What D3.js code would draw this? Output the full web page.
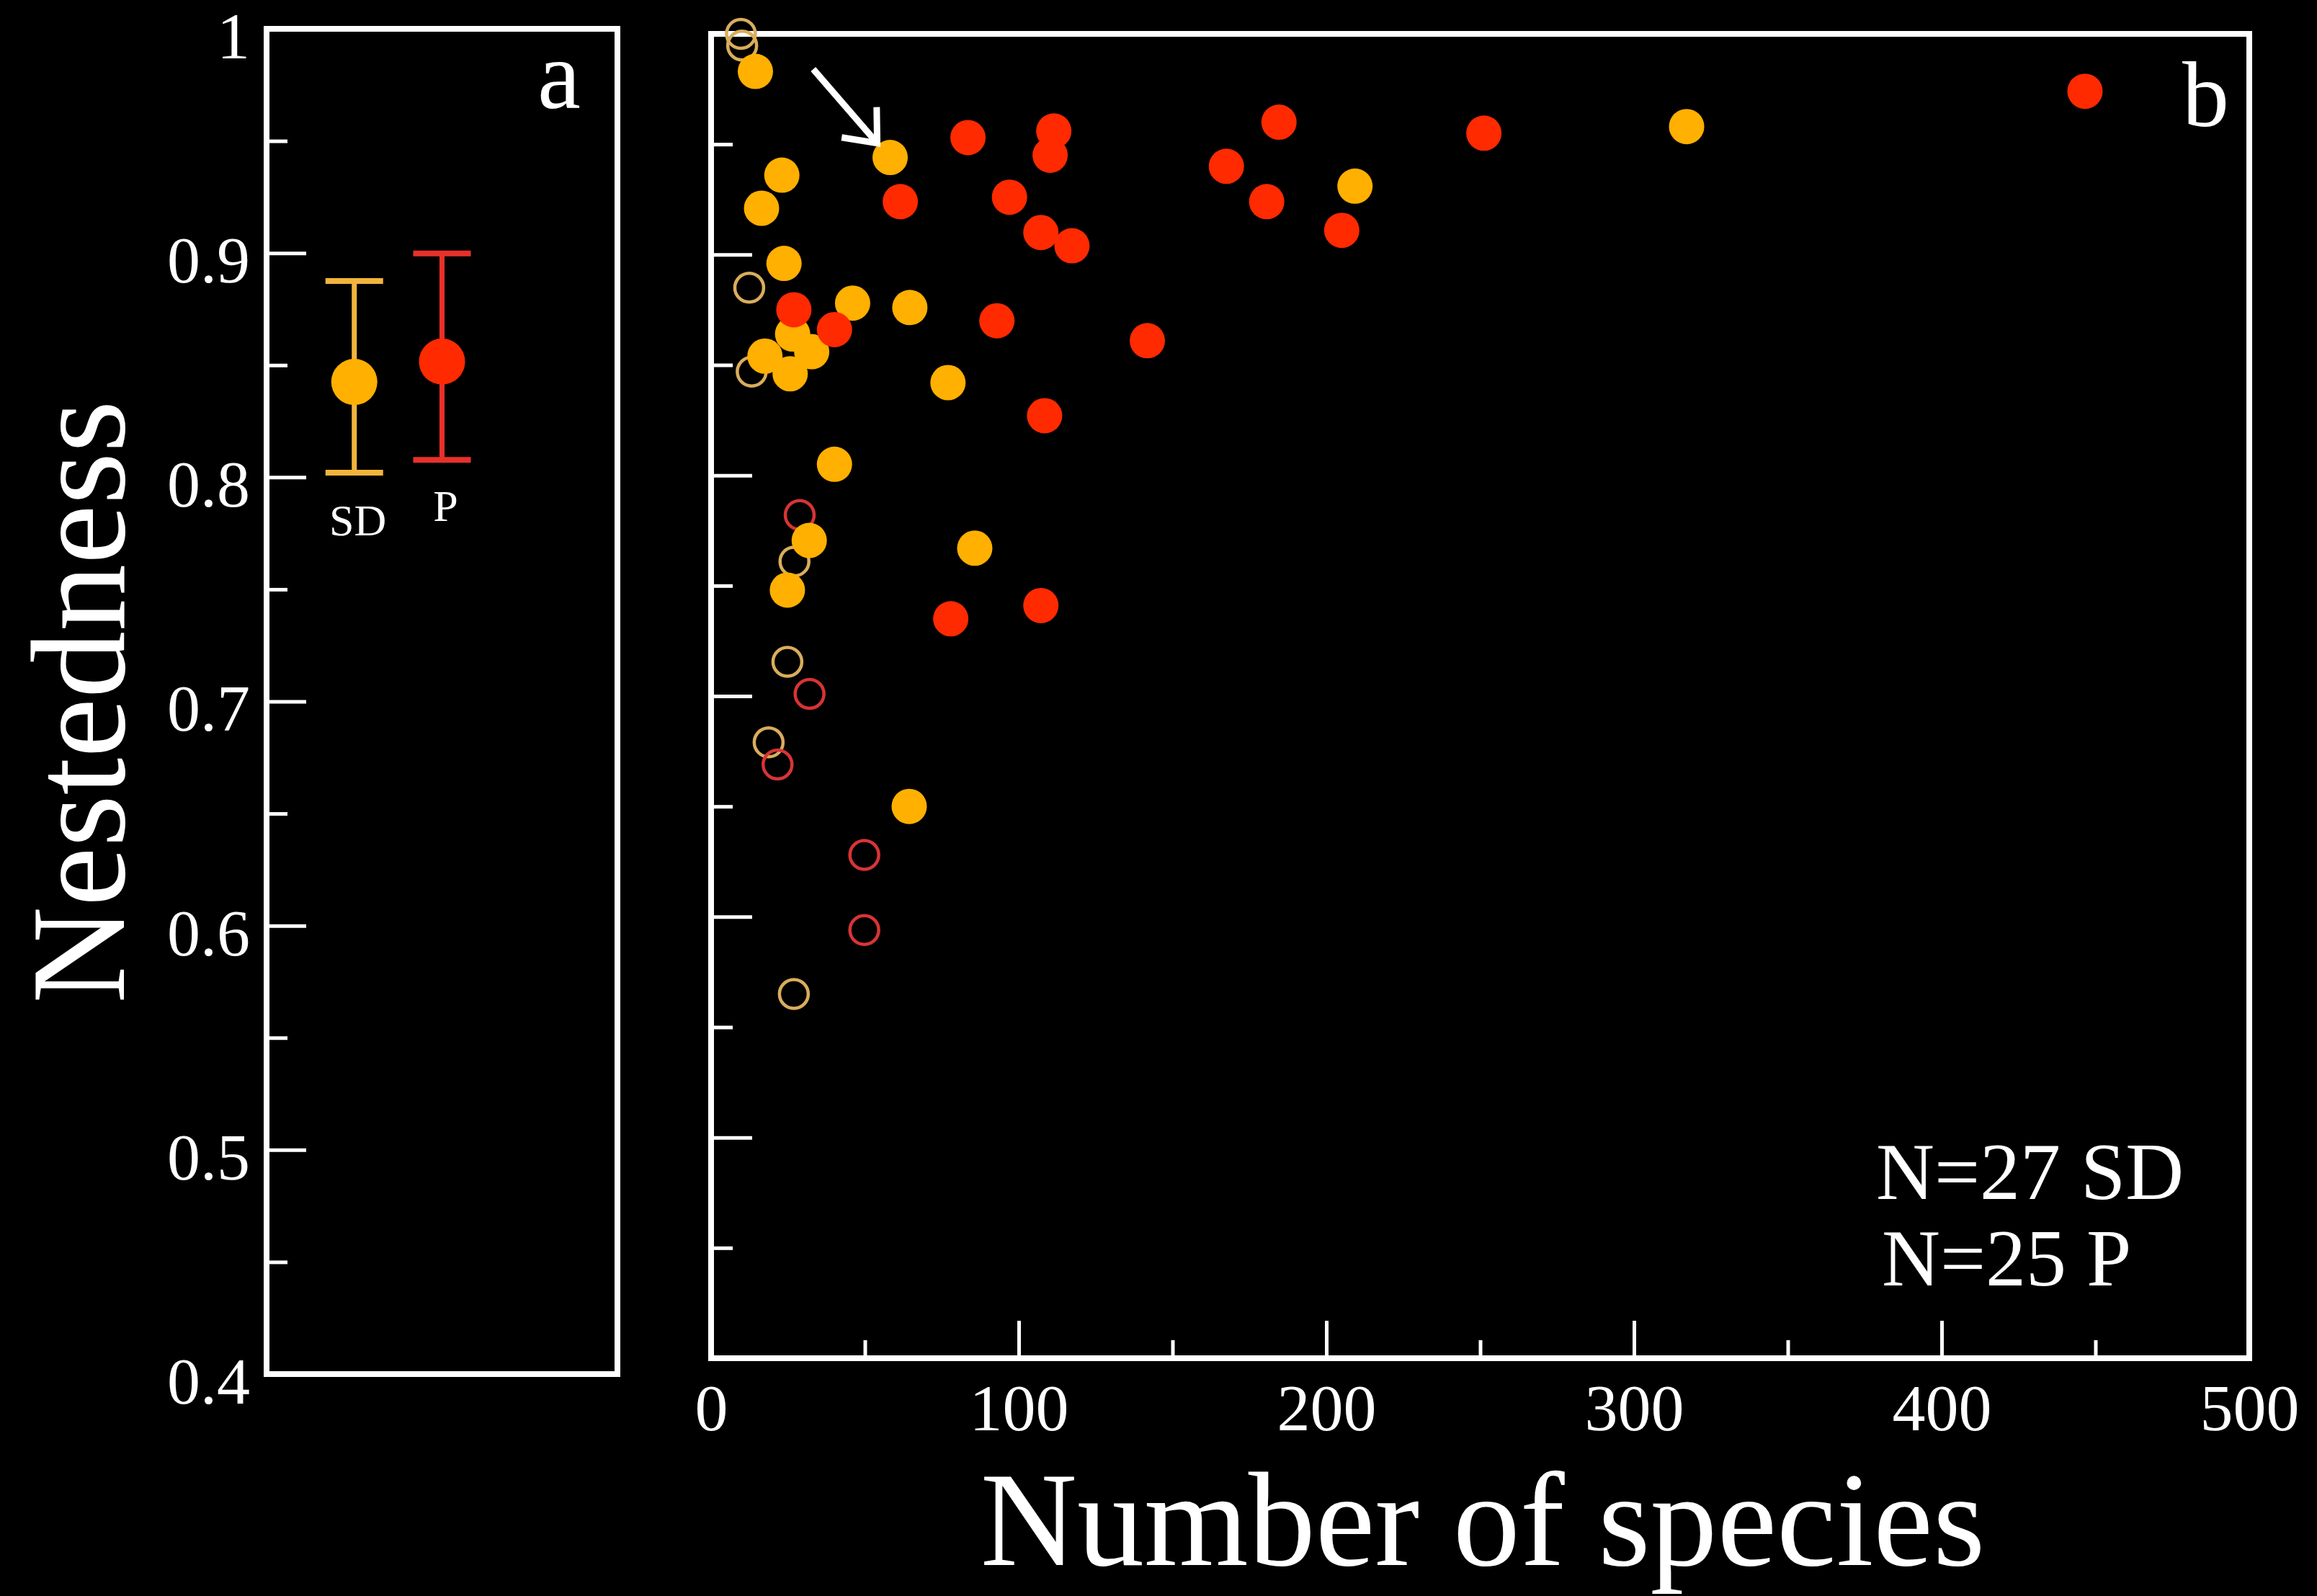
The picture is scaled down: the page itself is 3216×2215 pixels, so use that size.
<!DOCTYPE html>
<html>
<head>
<meta charset="utf-8">
<script src="https://cdn.jsdelivr.net/npm/d3@7"></script>
<style>
  html, body { margin: 0; padding: 0; background: #000; }
  svg { display: block; }
</style>
</head>
<body>
<div id="chart"></div>
<script>
// Panel a: mean nestedness with error bars
const groups = ["SD", "P"];
const groupMeans = [0.8425, 0.8516];
const groupLow = [0.802, 0.8077];
const groupHigh = [0.8875, 0.8998];

// Panel b: nestedness vs number of species
const sdFilled = [
  [14.4, 0.983], [58.2, 0.944], [23.0, 0.936], [16.4, 0.921], [23.7, 0.896],
  [46.0, 0.878], [64.6, 0.876], [26.5, 0.864], [32.7, 0.856], [17.5, 0.854],
  [25.7, 0.846], [77.0, 0.842], [40.1, 0.805], [31.9, 0.7705], [24.8, 0.748],
  [85.7, 0.767], [64.4, 0.650], [209.3, 0.931], [317.1, 0.958]
];
const sdOpen = [
  [9.7, 1.0], [10.1, 0.9947], [12.4, 0.885], [13.2, 0.847],
  [27.1, 0.761], [24.8, 0.7155], [18.7, 0.679], [26.9, 0.565]
];
const pFilled = [
  [26.9, 0.875], [40.1, 0.866], [108.4, 0.827], [83.5, 0.953], [111.4, 0.956],
  [110.2, 0.945], [61.5, 0.924], [97.0, 0.926], [107.2, 0.910], [117.3, 0.904],
  [92.9, 0.870], [141.8, 0.861], [167.5, 0.940], [77.9, 0.735], [107.2, 0.741],
  [184.6, 0.960], [180.6, 0.924], [205.0, 0.911], [251.2, 0.955], [446.6, 0.974]
];
const pOpen = [
  [28.8, 0.782], [32.0, 0.701], [21.6, 0.669], [49.8, 0.628], [49.8, 0.594]
];

// Tick values
const yMajor = [0.4, 0.5, 0.6, 0.7, 0.8, 0.9, 1.0];
const yMinor = [0.45, 0.55, 0.65, 0.75, 0.85, 0.95];
const xMajor = [0, 100, 200, 300, 400, 500];
const xMinor = [50, 150, 250, 350, 450];

// Annotations
const arrowFrom = [33.2, 0.984];
const arrowTo = [54.0, 0.9505];
const countLabels = ["N=27 SD", "N=25 P"];

const W = 3216, H = 2215;
const FONT = "'Liberation Serif', 'DejaVu Serif', 'Times New Roman', serif";
const ORANGE = "#ffb000";
const RED = "#ff2a00";
const ORANGE_OPEN = "#d9ad5c";
const RED_OPEN = "#d83434";

const svg = d3.select("#chart").append("svg")
  .attr("width", W).attr("height", H)
  .style("background", "#000");

// Panel frames
const A = { left: 370, right: 857, top: 40, bottom: 1907 };
const B = { left: 987, right: 3122, top: 47, bottom: 1885 };

const yA = d3.scaleLinear().domain([0.4, 1]).range([A.bottom, A.top]);
const xA = d3.scaleLinear().domain([0, 4]).range([A.left, A.right]);
const yB = d3.scaleLinear().domain([0.4, 1]).range([B.bottom, B.top]);
const xB = d3.scaleLinear().domain([0, 500]).range([B.left, B.right]);

function styleAxis(g, width) {
  g.select(".domain").remove();
  g.selectAll(".tick line").attr("stroke", "#fff").attr("stroke-width", width);
  g.selectAll(".tick text")
    .attr("fill", "#fff")
    .style("font-family", FONT)
    .style("font-size", "92px");
}

// ---- Panel a ----
const gA = svg.append("g");

gA.append("g")
  .attr("transform", `translate(${A.left},0)`)
  .call(d3.axisLeft(yA).tickValues(yMajor).tickSizeInner(-55).tickSizeOuter(0)
    .tickPadding(23).tickFormat(d3.format("~g")))
  .call(g => styleAxis(g, 5))
  .call(g => g.selectAll(".tick text").attr("dy", "0.44em"));

gA.append("g")
  .attr("transform", `translate(${A.left},0)`)
  .call(d3.axisRight(yA).tickValues(yMinor).tickSize(29).tickFormat(""))
  .call(g => styleAxis(g, 5));

gA.append("rect")
  .attr("x", A.left).attr("y", A.top)
  .attr("width", A.right - A.left).attr("height", A.bottom - A.top)
  .attr("fill", "none").attr("stroke", "#fff").attr("stroke-width", 8);

const groupColors = [ORANGE, RED];
const barColors = ["#f2b43c", "#e8302a"];
groups.forEach((name, i) => {
  const cx = xA(i + 1);
  const c = barColors[i];
  gA.append("line")
    .attr("x1", cx).attr("x2", cx)
    .attr("y1", yA(groupLow[i])).attr("y2", yA(groupHigh[i]))
    .attr("stroke", c).attr("stroke-width", 7);
  [groupLow[i], groupHigh[i]].forEach(v => {
    gA.append("line")
      .attr("x1", cx - 40).attr("x2", cx + 40)
      .attr("y1", yA(v)).attr("y2", yA(v))
      .attr("stroke", c).attr("stroke-width", 8);
  });
  gA.append("circle")
    .attr("cx", cx).attr("cy", yA(groupMeans[i]))
    .attr("r", 32)
    .attr("fill", groupColors[i]);
  gA.append("text")
    .attr("x", cx + 5)
    .attr("y", yA(groupLow[i]) + (i === 0 ? 87 : 85))
    .attr("text-anchor", "middle")
    .attr("fill", "#fff")
    .style("font-family", FONT)
    .style("font-size", "62px")
    .text(name);
});

gA.append("text")
  .attr("x", 746).attr("y", 150)
  .attr("fill", "#fff")
  .style("font-family", FONT)
  .style("font-size", "135px")
  .text("a");

// ---- Panel b ----
const gB = svg.append("g");

gB.append("g")
  .attr("transform", `translate(${B.left},0)`)
  .call(d3.axisRight(yB).tickValues(yMajor).tickSize(57).tickFormat(""))
  .call(g => styleAxis(g, 5));

gB.append("g")
  .attr("transform", `translate(${B.left},0)`)
  .call(d3.axisRight(yB).tickValues(yMinor).tickSize(30).tickFormat(""))
  .call(g => styleAxis(g, 5));

gB.append("g")
  .attr("transform", `translate(0,${B.bottom})`)
  .call(d3.axisBottom(xB).tickValues(xMajor).tickSizeInner(-52).tickSizeOuter(0)
    .tickPadding(35).tickFormat(d3.format("d")))
  .call(g => styleAxis(g, 5));

gB.append("g")
  .attr("transform", `translate(0,${B.bottom})`)
  .call(d3.axisTop(xB).tickValues(xMinor).tickSize(25).tickFormat(""))
  .call(g => styleAxis(g, 5));

gB.append("rect")
  .attr("x", B.left).attr("y", B.top)
  .attr("width", B.right - B.left).attr("height", B.bottom - B.top)
  .attr("fill", "none").attr("stroke", "#fff").attr("stroke-width", 8);

// Open markers first, filled markers on top
function openPoints(data, color) {
  gB.selectAll(null).data(data).enter().append("circle")
    .attr("cx", d => xB(d[0])).attr("cy", d => yB(d[1]))
    .attr("r", 20)
    .attr("fill", "none")
    .attr("stroke", color).attr("stroke-width", 4.5);
}
function filledPoints(data, color) {
  gB.selectAll(null).data(data).enter().append("circle")
    .attr("cx", d => xB(d[0])).attr("cy", d => yB(d[1]))
    .attr("r", 24.5)
    .attr("fill", color);
}
openPoints(sdOpen, ORANGE_OPEN);
openPoints(pOpen, RED_OPEN);
filledPoints(sdFilled, ORANGE);
filledPoints(pFilled, RED);

// Arrow pointing at the highlighted SD web
const ax1 = xB(arrowFrom[0]), ay1 = yB(arrowFrom[1]);
const ax2 = xB(arrowTo[0]), ay2 = yB(arrowTo[1]);
const ang = Math.atan2(ay2 - ay1, ax2 - ax1);
const head = 50, spread = Math.PI / 4.5;
gB.append("line")
  .attr("x1", ax1).attr("y1", ay1).attr("x2", ax2).attr("y2", ay2)
  .attr("stroke", "#fff").attr("stroke-width", 9);
gB.append("path")
  .attr("d", `M${ax2 - head * Math.cos(ang - spread)},${ay2 - head * Math.sin(ang - spread)}
    L${ax2},${ay2}
    L${ax2 - head * Math.cos(ang + spread)},${ay2 - head * Math.sin(ang + spread)}`)
  .attr("fill", "none").attr("stroke", "#fff").attr("stroke-width", 9)
  .attr("stroke-linejoin", "miter");

gB.append("text")
  .attr("x", 3029).attr("y", 175)
  .attr("fill", "#fff")
  .style("font-family", FONT)
  .style("font-size", "130px")
  .text("b");

countLabels.forEach((t, i) => {
  gB.append("text")
    .attr("x", 2604 + i * 8).attr("y", 1664 + i * 120)
    .attr("fill", "#fff")
    .style("font-family", FONT)
    .style("font-size", "112px")
    .text(t);
});

// Axis titles
svg.append("text")
  .attr("transform", `translate(172,974) rotate(-90)`)
  .attr("text-anchor", "middle")
  .attr("fill", "#fff")
  .style("font-family", FONT)
  .style("font-size", "186px")
  .text("Nestedness");

svg.append("text")
  .attr("x", 2058).attr("y", 2172)
  .attr("text-anchor", "middle")
  .attr("fill", "#fff")
  .style("font-family", FONT)
  .style("font-size", "186px")
  .text("Number of species");
</script>
</body>
</html>
